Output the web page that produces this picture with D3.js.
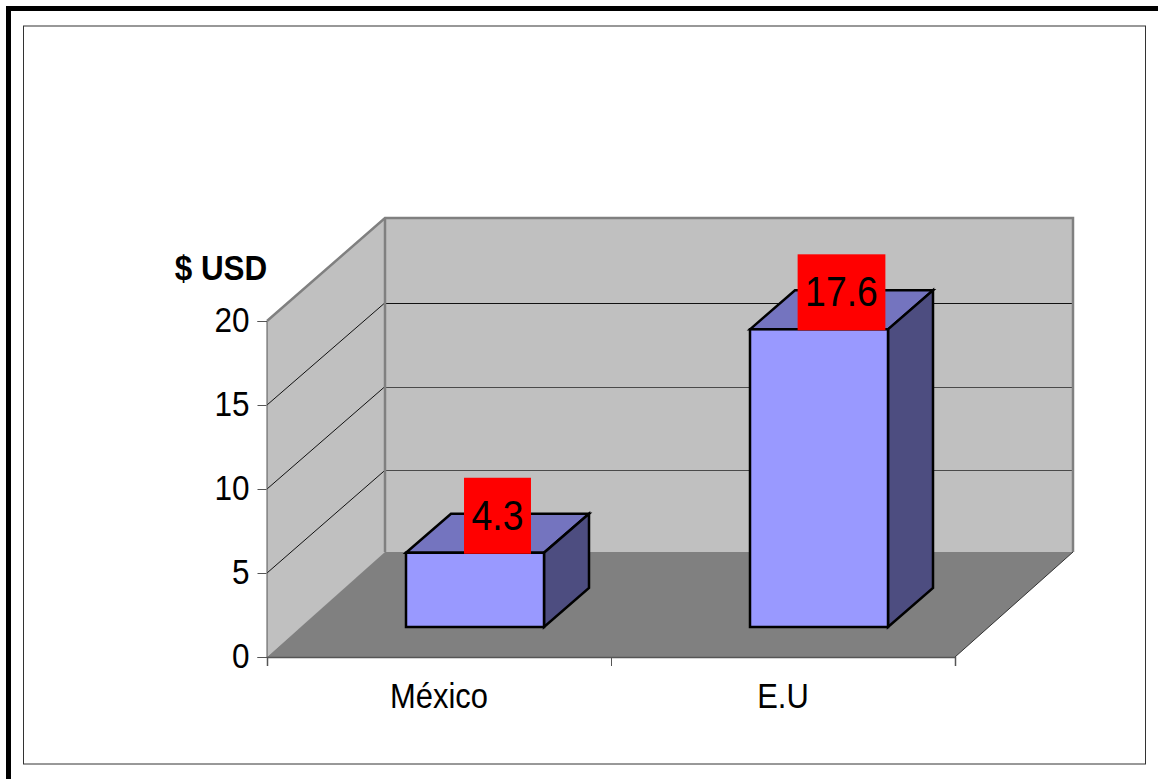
<!DOCTYPE html>
<html>
<head>
<meta charset="utf-8">
<script src="https://cdn.jsdelivr.net/npm/d3@7/dist/d3.min.js"></script>
<style>
html,body{margin:0;padding:0;background:#fff;overflow:hidden}
svg{display:block}
text{font-family:"Liberation Sans",Arial,sans-serif;fill:#000}
</style>
</head>
<body>
<svg id="c" width="1158" height="779"></svg>
<script>
const categories = ["México", "E.U"];
const values = [4.3, 17.6];
const tickValues = [0, 5, 10, 15, 20];
const axisTitle = "$ USD";

const svg = d3.select("#c");

// Layout constants
const plotLeft = 267, plotRight = 955, floorFront = 657, plotTopFront = 321;
const depthX = 118, floorBack = 553, plotTopBack = 218, floorBackEdge = 552;
const barDepthX = 45, barDepthY = 39, barInsetX = 36, barInsetY = 30, barWidth = 138, barLift = 2;

const y = d3.scaleLinear().domain([0, 20]).range([floorFront, plotTopFront]);
const yBack = d3.scaleLinear().domain([0, 20]).range([floorBack, plotTopBack]);
const xBand = d3.scaleBand().domain(categories).range([plotLeft, plotRight]);
const xEdge = d3.scaleLinear().domain([0, categories.length]).range([plotLeft, plotRight]);

const poly = pts => pts.map(p => p.join(",")).join(" ");
const backLeft = plotLeft + depthX, backRight = plotRight + depthX;

function squeeze(node, f) {
  const w = node.getComputedTextLength();
  d3.select(node).attr("textLength", w * f).attr("lengthAdjust", "spacingAndGlyphs");
}

// Outer frames
svg.append("rect").attr("x", 8.5).attr("y", 8.5).attr("width", 1170).attr("height", 800)
  .attr("fill", "#fff").attr("stroke", "#000").attr("stroke-width", 5);
svg.append("rect").attr("x", 23.5).attr("y", 26).attr("width", 1122).attr("height", 738)
  .attr("fill", "#fff").attr("stroke", "#333").attr("stroke-width", 1);

// Walls and floor
svg.append("polygon")
  .attr("points", poly([[backLeft, yBack(20)], [backRight, yBack(20)], [backRight, yBack(0)], [backLeft, yBack(0)]]))
  .attr("fill", "#c0c0c0");
svg.append("polygon")
  .attr("points", poly([[plotLeft, y(0)], [backLeft, yBack(0)], [backLeft, yBack(20)], [plotLeft, y(20)]]))
  .attr("fill", "#c0c0c0");
svg.append("polygon")
  .attr("points", poly([[plotLeft, y(0)], [backLeft, floorBackEdge], [backRight, floorBackEdge], [plotRight, y(0)]]))
  .attr("fill", "#808080");

// Gridlines
const inner = tickValues.filter(d => d > 0 && d < 20);
svg.append("g").selectAll("line").data(inner).join("line")
  .attr("x1", backLeft).attr("x2", backRight - 1)
  .attr("y1", d => Math.round(yBack(d)) + 1.5).attr("y2", d => Math.round(yBack(d)) + 1.5)
  .attr("stroke", d => d === 15 ? "#111" : "#4a4a4a").attr("stroke-width", 1);
svg.append("g").selectAll("line").data(inner).join("line")
  .attr("x1", plotLeft).attr("x2", backLeft)
  .attr("y1", d => y(d)).attr("y2", d => yBack(d) + 1)
  .attr("stroke", "#111").attr("stroke-width", 1);

// Wall edges
const edge = svg.append("g").attr("fill", "none").attr("stroke", "#808080").attr("stroke-width", 2.5);
edge.append("polyline").attr("points", poly([[plotLeft, y(20)], [backLeft, yBack(20)], [backRight, yBack(20)], [backRight, floorBackEdge]]));
edge.append("line").attr("x1", backLeft).attr("x2", backLeft).attr("y1", yBack(20)).attr("y2", floorBackEdge);
svg.append("line").attr("x1", plotRight).attr("y1", y(0)).attr("x2", backRight).attr("y2", floorBackEdge)
  .attr("stroke", "#333").attr("stroke-width", 1);

// Axes
const yAxis = svg.append("g").attr("transform", `translate(${plotLeft - 0.5},0)`)
  .call(d3.axisLeft(y).tickValues(tickValues).tickSize(9).tickPadding(8));
yAxis.selectAll(".domain,line").attr("stroke", "#555");
yAxis.selectAll("text")
  .attr("font-size", 35).attr("dy", 10)
  .style("font-family", '"Liberation Sans",Arial,sans-serif')
  .each(function () { squeeze(this, 0.9); });

const xAxis = svg.append("g").attr("transform", `translate(0,${floorFront})`)
  .call(d3.axisBottom(xEdge).tickValues(d3.range(categories.length + 1)).tickSize(9).tickFormat(""));
xAxis.selectAll(".domain,line").attr("stroke", "#555");
xAxis.select(".domain").attr("stroke-width", 1.5);

// Category labels
svg.append("g").selectAll("text").data(categories).join("text")
  .attr("x", d => xBand(d) + xBand.bandwidth() / 2)
  .attr("y", 708)
  .attr("text-anchor", "middle")
  .attr("font-size", 35.5)
  .text(d => d)
  .each(function () { squeeze(this, 0.87); });

// Axis title
svg.append("text").attr("x", 221).attr("y", 280).attr("text-anchor", "middle")
  .attr("font-size", 34.5).attr("font-weight", "bold").text(axisTitle)
  .each(function () { squeeze(this, 0.91); });

// Bars
const barBase = y(0) - barInsetY;
const rows = categories.map((c, i) => {
  const x0 = xBand(c) + xBand.bandwidth() / 2 + barInsetX - barWidth / 2;
  return { c, v: values[i], x0, x1: x0 + barWidth, top: barBase - barLift - (y(0) - y(values[i])) };
});
const bars = svg.append("g").selectAll("g").data(rows).join("g")
  .attr("stroke", "#000").attr("stroke-width", 2.5).attr("stroke-linejoin", "miter");
bars.append("polygon")
  .attr("points", d => poly([[d.x0, d.top], [d.x0 + barDepthX, d.top - barDepthY], [d.x1 + barDepthX, d.top - barDepthY], [d.x1, d.top]]))
  .attr("fill", "#7474bf");
bars.append("polygon")
  .attr("points", d => poly([[d.x1, d.top], [d.x1 + barDepthX, d.top - barDepthY], [d.x1 + barDepthX, barBase - barDepthY], [d.x1, barBase]]))
  .attr("fill", "#4d4d80");
bars.append("rect")
  .attr("x", d => d.x0).attr("y", d => d.top)
  .attr("width", barWidth).attr("height", d => barBase - d.top)
  .attr("fill", "#9999ff");

// Value labels
const labels = svg.append("g").selectAll("g").data(rows).join("g");
const labelH = 76;
const labelText = labels.append("text")
  .attr("text-anchor", "middle").attr("font-size", 42)
  .attr("x", d => (d.x0 + d.x1) / 2 + barDepthX / 2)
  .attr("y", d => d.top + 1 - labelH + 52)
  .text(d => d3.format(".1f")(d.v));
labelText.each(function () { squeeze(this, 0.89); });
labels.insert("rect", "text")
  .attr("fill", "#ff0000")
  .attr("height", labelH)
  .attr("y", d => d.top + 1 - labelH)
  .each(function (d) {
    const t = d3.select(this.parentNode).select("text").node();
    const w = +t.getAttribute("textLength") + 15;
    d3.select(this).attr("x", (d.x0 + d.x1) / 2 + barDepthX / 2 - w / 2).attr("width", w);
  });
</script>
</body>
</html>
